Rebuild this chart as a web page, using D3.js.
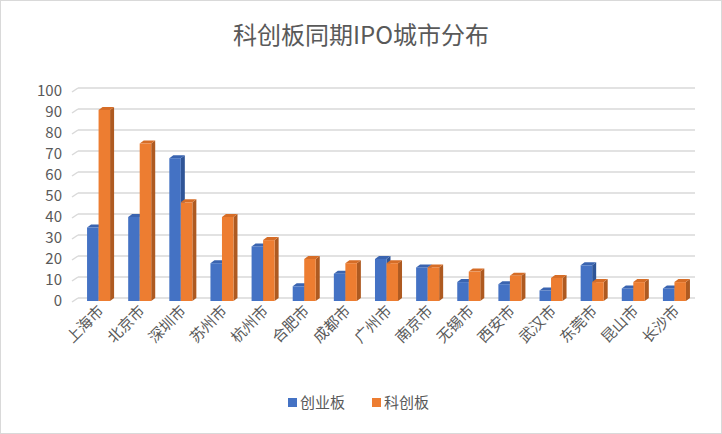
<!DOCTYPE html><html><head><meta charset="utf-8"><script src="https://cdn.jsdelivr.net/npm/d3@7"></script>
<style>body{margin:0;background:#fff}text{font-family:"Noto Sans CJK SC",sans-serif}</style></head><body><svg id="c" width="722" height="434"></svg><script>
const categories=["上海市","北京市","深圳市","苏州市","杭州市","合肥市","成都市","广州市","南京市","无锡市","西安市","武汉市","东莞市","昆山市","长沙市"];
const chuangye=[35,40,68,18,26,7,13,20,16,9,8,5,17,6,6];
const kechuang=[91,75,47,40,29,20,18,18,16,14,12,11,9,9,9];
const yTicks=[0,10,20,30,40,50,60,70,80,90,100];
const svg=d3.select("#c");
svg.append("rect").attr("x",0.5).attr("y",0.5).attr("width",721).attr("height",433).attr("fill","#fff").attr("stroke","#d9d9d9");
svg.append("text").attr("x",361).attr("y",44).attr("text-anchor","middle").attr("font-size",24).attr("fill","#595959").text("科创板同期IPO城市分布");
const y=d3.scaleLinear().domain([0,100]).range([301,91]);
const x=d3.scaleBand().domain(categories).range([78,695]).paddingInner(0.44).paddingOuter(0.22);
const dx=4,dy=3;
yTicks.forEach(t=>{const yy=y(t);
svg.append("line").attr("x1",78).attr("x2",695).attr("y1",yy-dy).attr("y2",yy-dy).attr("stroke","#d9d9d9").attr("stroke-width",1.5);
svg.append("line").attr("x1",72).attr("x2",78).attr("y1",yy+1).attr("y2",yy-dy).attr("stroke","#d9d9d9").attr("stroke-width",1.5);
svg.append("text").attr("x",62).attr("y",yy+5).attr("text-anchor","end").attr("font-size",15).attr("fill","#595959").text(t);});
const series=[{v:chuangye,f:"#4472c4",s:"#2f5597",t:"#3a64b0",o:0},{v:kechuang,f:"#ed7d31",s:"#ae5a21",t:"#d66d27",o:1}];
const bw=x.bandwidth()/2;
categories.forEach((c,i)=>{series.forEach(s=>{const x0=x(c)+s.o*bw,y0=y(s.v[i]),b=y(0);
svg.append("polygon").attr("points",`${x0+bw},${y0} ${x0+bw+dx},${y0-dy} ${x0+bw+dx},${b-dy} ${x0+bw},${b}`).attr("fill",s.s);
svg.append("polygon").attr("points",`${x0},${y0} ${x0+dx},${y0-dy} ${x0+bw+dx},${y0-dy} ${x0+bw},${y0}`).attr("fill",s.t);
svg.append("rect").attr("x",x0).attr("y",y0).attr("width",bw).attr("height",b-y0).attr("fill",s.f);});
const lx=x(c)+x.bandwidth()/2+6;
svg.append("text").attr("transform",`translate(${lx},312) rotate(-45)`).attr("text-anchor","end").attr("font-size",15).attr("fill","#595959").text(c);});
const lg=[["创业板","#4472c4",288],["科创板","#ed7d31",372]];
lg.forEach(([n,col,lx])=>{svg.append("rect").attr("x",lx).attr("y",398).attr("width",9).attr("height",9).attr("fill",col);
svg.append("text").attr("x",lx+12).attr("y",408).attr("font-size",15).attr("fill","#595959").text(n);});
</script></body></html>
